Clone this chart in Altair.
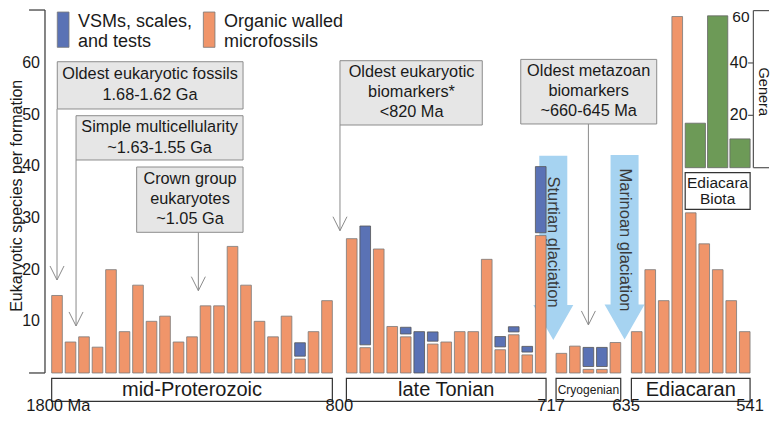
import altair as alt
import pandas as pd

# ---------------- data ----------------
ERAS = ["mid-Proterozoic", "late Tonian", "Cryogenian", "Ediacaran"]
X_LABELS = ["1800 Ma", "800", "717", "635", "541"]

OWM_MID = [15, 6, 7, 5, 20, 8, 17, 10, 11, 6, 7, 13, 13, 24.5, 17, 10, 7, 11, 2.7, 8, 14]
VSM_MID = [0, 0, 0, 0, 0, 0, 0, 0, 0, 0, 0, 0, 0, 0, 0, 0, 0, 0, 2.6, 0, 0]
OWM_TON = [26, 4.9, 24, 9, 7, 0, 5.6, 6, 8, 8, 22, 4.5, 7.4, 3.5, 26.6]
VSM_TON = [0, 23, 0, 0, 1.3, 8, 1.8, 0, 0, 0, 0, 2.0, 1.0, 1.1, 12.8]
OWM_CRY = [3.8, 5.2, 0.7, 0.7, 5.9]
VSM_CRY = [0, 0, 3.7, 3.7, 0]
OWM_EDI = [8, 20, 14, 69, 31, 25, 20, 14, 8]
VSM_EDI = [0, 0, 0, 0, 0, 0, 0, 0, 0]

GENERA = [17, 58, 11]
GENERA_TICKS = [20, 40, 60]
Y_TICKS = [10, 20, 30, 40, 50, 60]

LEGEND = [["VSMs, scales,", "and tests"], ["Organic walled", "microfossils"]]
NOTES = [
    ["Oldest eukaryotic fossils", "1.68-1.62 Ga"],
    ["Simple multicellularity", "~1.63-1.55 Ga"],
    ["Crown group", "eukaryotes", "~1.05 Ga"],
    ["Oldest eukaryotic", "biomarkers*", "<820 Ma"],
    ["Oldest metazoan", "biomarkers", "~660-645 Ma"],
]
GLACIATIONS = ["Sturtian glaciation", "Marinoan glaciation"]
INSET_LABEL = ["Ediacara", "Biota"]

# ---------------- layout / style ----------------
FONT = "Liberation Sans"
C_OWM = "#f0956a"
C_VSM = "#5a72b5"
C_GREEN = "#6d9a57"
C_GLAC = "#a6d3f1"
C_TEXT = "#1a1a1a"
HW = 0.395          # half bar width (slots)
GAP = 0.55          # white gap between stacked segments
ERA_GAPS = [0.83, 0.53, 0.58]

W, H = 764, 406
XS = alt.Scale(domain=[-3.63, 52.96], nice=False, zero=False)
YS = alt.Scale(domain=[-7.94, 70.65], nice=False, zero=False)
GY = alt.Scale(domain=[0, 60], range=[159.7, 2.6], nice=False, zero=False)

NOTE_BOX = [(0.02, 13.78, 60.25, 51.10), (1.41, 13.78, 49.8, 41.23),
            (5.9, 13.78, 39.87, 27.23), (20.96, 31.5, 60.45, 48.0),
            (34.35, 44.42, 60.7, 48.2)]
NOTE_TX = [6.89, 7.6, 9.85, 26.26, 39.38]
NOTE_LY = [[57.87, 53.8], [47.6, 43.55], [37.6, 33.7, 29.8],
           [58.2, 54.45, 50.6], [58.5, 54.6, 50.7]]
NOTE_ARROW = [(0.0, 18.0), (1.41, 9.1), (10.47, 15.93), (20.96, 27.54), (39.36, 9.3)]

GLAC_X = [36.76, 42.04]
GLAC_TOP = [42.06, 42.19]
GLAC_TY = [25.36, 25.74]
ARROW_PATH = "M -0.7 0 L 0.7 0 L 0.7 7.47 L 1 7.47 L 0 9.22 L -1 7.47 L -0.7 7.47 Z"
VHEAD = "M -1 -2 L 0 0 L 1 -2"


def rect(df, ys=YS, **mk):
    return alt.Chart(df).mark_rect(**mk).encode(
        x=alt.X("x0:Q", scale=XS, axis=None), x2="x1:Q",
        y=alt.Y("y0:Q", scale=ys, axis=None), y2="y1:Q")


def rule(df, ys=YS, **mk):
    return alt.Chart(df).mark_rule(**mk).encode(
        x=alt.X("x0:Q", scale=XS, axis=None), x2="x1:Q",
        y=alt.Y("y0:Q", scale=ys, axis=None), y2="y1:Q")


def text(df, ys=YS, **mk):
    mk.setdefault("font", FONT)
    mk.setdefault("color", C_TEXT)
    return alt.Chart(df).mark_text(**mk).encode(
        x=alt.X("x:Q", scale=XS, axis=None),
        y=alt.Y("y:Q", scale=ys, axis=None),
        text="t:N")


# ---------------- bars ----------------
era_owm = [OWM_MID, OWM_TON, OWM_CRY, OWM_EDI]
era_vsm = [VSM_MID, VSM_TON, VSM_CRY, VSM_EDI]
owm_rows, vsm_rows, era_rows = [], [], []
start = 0.0
for k, (name, owm, vsm) in enumerate(zip(ERAS, era_owm, era_vsm)):
    if k > 0:
        start += len(era_owm[k - 1]) + ERA_GAPS[k - 1]
    for i, (o, v) in enumerate(zip(owm, vsm)):
        c = start + i
        if o > 0:
            owm_rows.append(dict(x0=c - HW, x1=c + HW, y0=0, y1=o))
        if v > 0:
            lo = o + GAP if o > 0 else 0
            vsm_rows.append(dict(x0=c - HW, x1=c + HW, y0=lo, y1=lo + v))
    era_rows.append(dict(t=name, x0=start - HW, x1=start + len(owm) - 1 + HW,
                         y0=-1.03, y1=-5.5, x=start + (len(owm) - 1) / 2, y=-3.27))
owm_df = pd.DataFrame(owm_rows)
vsm_df = pd.DataFrame(vsm_rows)
era_df = pd.DataFrame(era_rows)

# x boundary labels
xl_pos = [era_rows[0]["x0"] + 0.5]
for k in range(1, len(era_rows)):
    xl_pos.append((era_rows[k - 1]["x1"] + era_rows[k]["x0"]) / 2)
xl_pos.append(era_rows[-1]["x1"])
xlab_df = pd.DataFrame(dict(t=X_LABELS, x=xl_pos, y=[-6.4] * len(X_LABELS)))

layers = []

# glaciation arrows
glac_df = pd.DataFrame(dict(t=GLACIATIONS, x=GLAC_X, y=GLAC_TOP, ty=GLAC_TY))
layers.append(alt.Chart(glac_df).mark_point(
    shape=ARROW_PATH, size=1600, filled=True, fill=C_GLAC, strokeWidth=0, opacity=1
).encode(x=alt.X("x:Q", scale=XS, axis=None), y=alt.Y("y:Q", scale=YS, axis=None)))
layers.append(alt.Chart(glac_df).mark_text(
    font=FONT, fontSize=16.5, color="#3a3a3a", angle=90, align="center", baseline="middle"
).encode(x=alt.X("x:Q", scale=XS, axis=None), y=alt.Y("ty:Q", scale=YS, axis=None), text="t:N"))

# annotation boxes, arrows and text
box_df = pd.DataFrame([dict(x0=b[0], x1=b[1], y0=b[2], y1=b[3]) for b in NOTE_BOX])
arr_df = pd.DataFrame([dict(x0=a[0], x1=a[0], y0=NOTE_BOX[i][3], y1=a[1], x=a[0], y=a[1])
                       for i, a in enumerate(NOTE_ARROW)])
note_rows = []
for i, lines in enumerate(NOTES):
    for j, ln in enumerate(lines):
        note_rows.append(dict(t=ln, x=NOTE_TX[i], y=NOTE_LY[i][j]))
note_df = pd.DataFrame(note_rows)
layers.append(rule(arr_df, color="#8a8a8a", strokeWidth=1))
layers.append(alt.Chart(arr_df).mark_point(
    shape=VHEAD, size=196, filled=False, stroke="#8a8a8a", strokeWidth=1, opacity=1
).encode(x=alt.X("x:Q", scale=XS, axis=None), y=alt.Y("y:Q", scale=YS, axis=None)))
layers.append(rect(box_df, fill="#e6e6e6", stroke="#8c8c8c", strokeWidth=1))
layers.append(text(note_df, fontSize=16.3, align="center", baseline="middle"))

# bars
layers.append(rect(owm_df, fill=C_OWM, stroke="#7a7a7a", strokeWidth=0.8))
layers.append(rect(vsm_df, fill=C_VSM, stroke="#555", strokeWidth=0.8))

# era boxes
layers.append(rect(era_df, fill="white", stroke="#333", strokeWidth=1.2))
era_big = era_df[era_df.t != "Cryogenian"]
era_small = era_df[era_df.t == "Cryogenian"]
layers.append(text(era_big, fontSize=20, align="center", baseline="middle"))
layers.append(text(era_small, fontSize=12, align="center", baseline="middle"))
layers.append(text(xlab_df, fontSize=16.5, align="center", baseline="middle"))

# y axis
axis_df = pd.DataFrame([dict(x0=-0.89, x1=-0.89, y0=0, y1=70.26),
                        dict(x0=-2.07, x1=-0.89, y0=70.26, y1=70.26),
                        dict(x0=-2.07, x1=-0.89, y0=0, y1=0)])
layers.append(rule(axis_df, color="#444", strokeWidth=1.3))
ytick_df = pd.DataFrame(dict(t=[str(v) for v in Y_TICKS], x=[-1.26] * len(Y_TICKS), y=Y_TICKS))
layers.append(text(ytick_df, fontSize=16, align="right", baseline="middle"))
ytitle_df = pd.DataFrame(dict(t=["Eukaryotic species per formation"], x=[-3.0], y=[34.3]))
layers.append(text(ytitle_df, fontSize=16, angle=270, align="center", baseline="middle"))

# legend
leg_sq = pd.DataFrame([dict(x0=0.02, x1=0.89, y0=63.04, y1=69.87, c=C_VSM),
                       dict(x0=10.84, x1=11.70, y0=63.04, y1=69.87, c=C_OWM)])
layers.append(alt.Chart(leg_sq).mark_rect(stroke="#777", strokeWidth=0.8).encode(
    x=alt.X("x0:Q", scale=XS, axis=None), x2="x1:Q",
    y=alt.Y("y0:Q", scale=YS, axis=None), y2="y1:Q",
    fill=alt.Fill("c:N", scale=None)))
leg_rows = []
for i, lines in enumerate(LEGEND):
    for j, ln in enumerate(lines):
        leg_rows.append(dict(t=ln, x=[1.56, 12.37][i], y=[68.0, 64.12][j]))
layers.append(text(pd.DataFrame(leg_rows), fontSize=18, align="left", baseline="middle"))

main = alt.layer(*layers)

# ---------------- inset (Ediacara Biota genera) ----------------
g_rows = []
for i, g in enumerate(GENERA):
    c = 47.28 + i * 1.655
    g_rows.append(dict(x0=c - 0.75, x1=c + 0.75, y0=0, y1=g))
g_df = pd.DataFrame(g_rows)
inset = []
inset.append(rect(g_df, ys=GY, fill=C_GREEN, stroke="#666", strokeWidth=0.8))
gax = [dict(x0=51.58, x1=51.58, y0=0, y1=60),
       dict(x0=51.58, x1=52.74, y0=60, y1=60),
       dict(x0=51.58, x1=52.74, y0=0, y1=0)]
gax += [dict(x0=51.19, x1=51.58, y0=v, y1=v) for v in GENERA_TICKS if v < 60]
inset.append(rule(pd.DataFrame(gax), ys=GY, color="#555", strokeWidth=1.2))
gt_low = pd.DataFrame(dict(t=[str(v) for v in GENERA_TICKS if v < 60], x=[51.15, 51.15],
                           y=[v for v in GENERA_TICKS if v < 60]))
gt_top = pd.DataFrame(dict(t=[str(GENERA_TICKS[-1])], x=[51.3], y=[GENERA_TICKS[-1]]))
inset.append(text(gt_low, ys=GY, fontSize=16, align="right", baseline="middle"))
inset.append(text(gt_top, ys=GY, fontSize=15.5, align="right", baseline="middle", dy=6.5))
inset.append(text(pd.DataFrame(dict(t=["Genera"], x=[52.28], y=[29])), ys=GY,
                  fontSize=14.5, angle=90, align="center", baseline="middle"))
ebox = pd.DataFrame([dict(x0=g_rows[0]["x0"], x1=g_rows[-1]["x1"], y0=-1.9, y1=-15.9)])
inset.append(rect(ebox, ys=GY, fill="white", stroke="#333", strokeWidth=1.2))
inset.append(text(pd.DataFrame(dict(t=INSET_LABEL, x=[48.93, 48.93], y=[-5.7, -12.05])), ys=GY,
                  fontSize=15.5, align="center", baseline="middle"))
inset_chart = alt.layer(*inset)

chart = alt.layer(main, inset_chart).resolve_scale(y="independent").properties(
    width=W, height=H, padding=0, autosize=alt.AutoSizeParams(type="none")
).configure_view(stroke=None)

chart.save("out.html", embed_options={"renderer": "svg", "actions": False})
